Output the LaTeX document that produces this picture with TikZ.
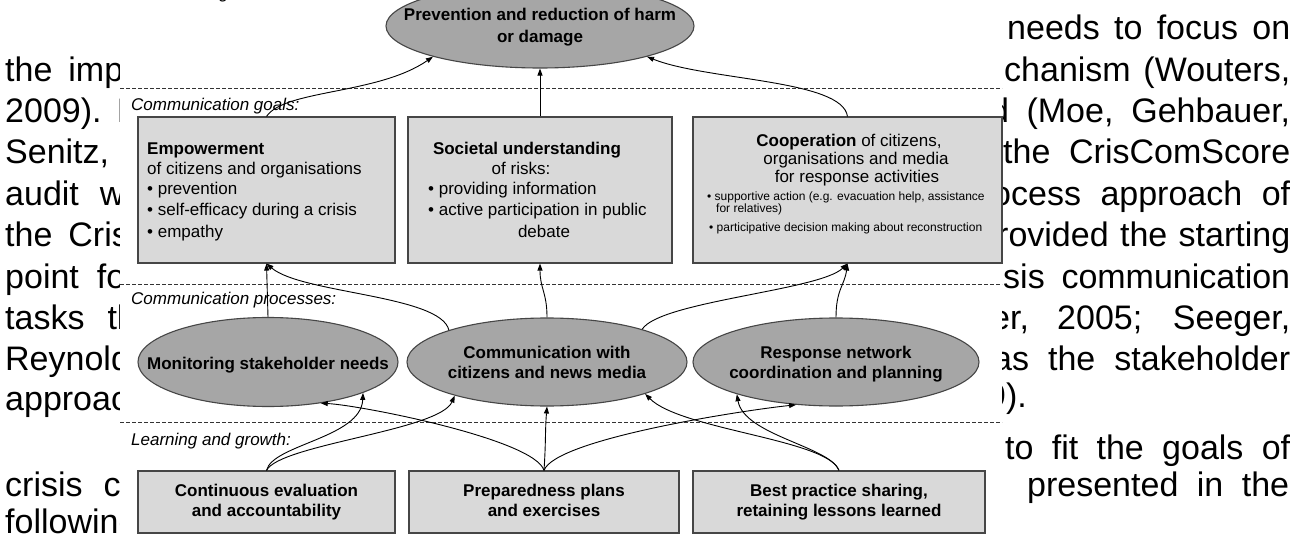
\documentclass[tikz,border=0pt]{standalone}
\usepackage{fontspec}
\setmainfont{Liberation Sans}
\usetikzlibrary{arrows.meta,shapes.geometric}
\definecolor{boxfill}{RGB}{217,217,217}
\definecolor{ellfill}{RGB}{166,166,166}
\definecolor{edgegray}{RGB}{70,70,70}
\tikzset{
	page/.style={font={\fontsize{34}{40}\selectfont\spaceskip=16pt plus 30pt minus 10pt\relax}, inner sep=0pt, anchor=base west},
	layer/.style={font=\fontsize{17}{20}\selectfont\itshape, inner sep=0pt, anchor=base west},
	layerline/.style={dash pattern=on 4pt off 2pt, line width=0.7pt, black!80},
	goal/.style={draw=edgegray, fill=boxfill, line width=1.1pt, inner sep=0pt, minimum height=146},
	growth/.style={goal, minimum height=62, font=\fontsize{17}{20}\selectfont\bfseries, align=center},
	process/.style={ellipse, draw=edgegray, fill=ellfill, line width=1.1pt, inner sep=0pt},
	proclabel/.style={font=\fontsize{17}{20}\selectfont\bfseries, align=center, inner sep=0pt},
	boxtxt/.style={font=\fontsize{17}{20}\selectfont, inner sep=0pt, anchor=base west},
	smalltxt/.style={font=\fontsize{12}{14}\selectfont, inner sep=0pt, anchor=base west},
	link/.style={-{Triangle[length=7pt,width=5pt]}, line width=0.9pt}
}
\begin{document}
\begin{tikzpicture}[x=1pt,y=-1pt]
	\useasboundingbox (0,0) rectangle (1309,556);
	% page text round the figure
	\node[page] (l2) at (5,82) {the imp};
	\node[page] (l3) at (5,123) {2009).\hspace{15pt}I};
	\node[page] (l4) at (5,164) {Senitz,};
	\node[page] (l5) at (5,206) {audit\hspace{21pt}w};
	\node[page] (l6) at (5,247) {the Cris};
	\node[page] (l7) at (5,288) {point\hspace{18pt}fo};
	\node[page] (l8) at (5,329) {tasks\hspace{23pt}th};
	\node[page] (l9) at (5,370) {Reynold};
	\node[page] (l10) at (5,410) {approach};
	\node[page] (l13) at (5,496) {crisis\hspace{21pt}co};
	\node[page] (l14) at (5,533) {following};
	\node[page] (r1) at (1007,40) {\makebox[283pt][s]{needs to focus on}};
	\node[page] (r2) at (1004,82) {\makebox[286pt][s]{chanism (Wouters,}};
	\node[page] (r3) at (990,123) {\makebox[300pt][s]{d (Moe, Gehbauer,}};
	\node[page] (r4) at (1003,164) {\makebox[287pt][s]{the CrisComScore}};
	\node[page] (r5) at (992,206) {\makebox[298pt][s]{ocess approach of}};
	\node[page] (r6) at (997,247) {\makebox[293pt][s]{rovided the starting}};
	\node[page] (r7) at (1003,288) {\makebox[287pt][s]{sis communication}};
	\node[page] (r8) at (991,329) {\makebox[299pt][s]{er, 2005; Seeger,}};
	\node[page] (r9) at (993,370) {\makebox[297pt][s]{as the stakeholder}};
	\node[page] (r10) at (987,407) {9).};
	\node[page] (r12) at (1005,459) {\makebox[285pt][s]{to fit the goals of}};
	\node[page] (r13) at (1027,496) {\makebox[262pt][s]{presented in the}};
	% figure area
	\fill[white] (120,0) rectangle (1002,556);
	\node[layer, anchor=base] (topg) at (224,-1) {g};
	\draw[layerline] (120,88) -- (1002,88);
	\draw[layerline] (120,284) -- (1002,284);
	\draw[layerline] (120,422) -- (1002,422);
	\node[layer] (goals) at (131,111) {Communication goals:};
	\node[layer] (procs) at (131,304) {Communication processes:};
	\node[layer] (learn) at (131,445) {Learning and growth:};
	% top
	\node[process, minimum width=308, minimum height=84] (prev) at (540,26) {};
	\node[proclabel, font=\fontsize{17}{22}\selectfont\bfseries] (prevtxt) at (540,27) {Prevention and reduction of harm\strut\\or damage\strut};
	% goals
	\node[goal, minimum width=257] (emp) at (266.5,190) {};
	\node[goal, minimum width=264] (soc) at (540,190) {};
	\node[goal, minimum width=309] (coop) at (847.5,190) {};
	\node[boxtxt] (emp1) at (147,155) {\textbf{Empowerment}};
	\node[boxtxt] (emp2) at (147,175) {of citizens and organisations};
	\node[boxtxt] (emp3) at (147,195) {• prevention};
	\node[boxtxt] (emp4) at (147,216) {• self-efficacy during a crisis};
	\node[boxtxt] (emp5) at (147,237) {• empathy};
	\node[boxtxt, anchor=base] (soc1) at (527,155) {\textbf{Societal understanding}};
	\node[boxtxt, anchor=base] (soc2) at (521,175) {of risks:};
	\node[boxtxt] (soc3) at (428,195) {• providing information};
	\node[boxtxt] (soc4) at (428,216) {• active participation in public};
	\node[boxtxt, anchor=base] (soc5) at (544,237) {debate};
	\node[boxtxt, anchor=base] (coop1) at (849,147) {\textbf{Cooperation} of citizens,};
	\node[boxtxt, anchor=base] (coop2) at (856,165) {organisations and media};
	\node[boxtxt, anchor=base] (coop3) at (857,183) {for response activities};
	\node[smalltxt] (coop4) at (707,201) {• supportive action (e.g. evacuation help, assistance};
	\node[smalltxt] (coop5) at (716,213) {for relatives)};
	\node[smalltxt] (coop6) at (709,232) {• participative decision making about reconstruction};
	% processes
	\node[process, minimum width=260, minimum height=89] (mon) at (268,362) {};
	\node[proclabel, anchor=base] (montxt) at (268,369) {Monitoring stakeholder needs};
	\node[process, minimum width=280, minimum height=88] (comm) at (547,362) {};
	\node[proclabel] (commtxt) at (547,364) {Communication with\strut\\citizens and news media\strut};
	\node[process, minimum width=286, minimum height=88] (resp) at (836,362) {};
	\node[proclabel] (resptxt) at (836,364) {Response network\strut\\coordination and planning\strut};
	% learning and growth
	\node[growth, minimum width=257] (cont) at (266.5,502) {Continuous evaluation\strut\\and accountability\strut};
	\node[growth, minimum width=270] (prep) at (544,502) {Preparedness plans\strut\\and exercises\strut};
	\node[growth, minimum width=292] (best) at (839,502) {Best practice sharing,\strut\\retaining lessons learned\strut};
	% links
	\draw[link] (emp.north) .. controls +(18,-27) and +(-55,38) .. (prev.196);
	\draw[link] (soc.north) -- (prev.south);
	\draw[link] (coop.north) .. controls +(-5,-37) and +(60,24) .. (prev.-16);
	\draw[link] (mon.north) -- (emp.south);
	\draw[link] (comm.162) .. controls +(-8,-35) and +(35,30) .. (emp.south);
	\draw[link] (comm.north) .. controls +(0,-25) and +(0,25) .. (soc.south);
	\draw[link] (comm.19) .. controls +(18,-28) and +(-28,27) .. (coop.south);
	\draw[link] (resp.north) .. controls +(0,-28) and +(-3,22) .. (coop.south);
	\draw[link] (cont.north) .. controls +(6,-26) and +(-2,45) .. (mon.-18);
	\draw[link] (cont.north) .. controls +(13,-26) and +(-15,35) .. (comm.200);
	\draw[link] (prep.north) .. controls +(-9,-31) and +(40,2) .. (mon.-38);
	\draw[link] (prep.north) .. controls +(2,-30) and +(-2,25) .. (comm.south);
	\draw[link] (prep.north) .. controls +(11,-31) and +(-57,6) .. (resp.227);
	\draw[link] (best.north) .. controls +(-11,-31) and +(36,36) .. (comm.-18);
	\draw[link] (best.north) .. controls +(-9,-24) and +(7,41) .. (resp.198);
\end{tikzpicture}
\end{document}
